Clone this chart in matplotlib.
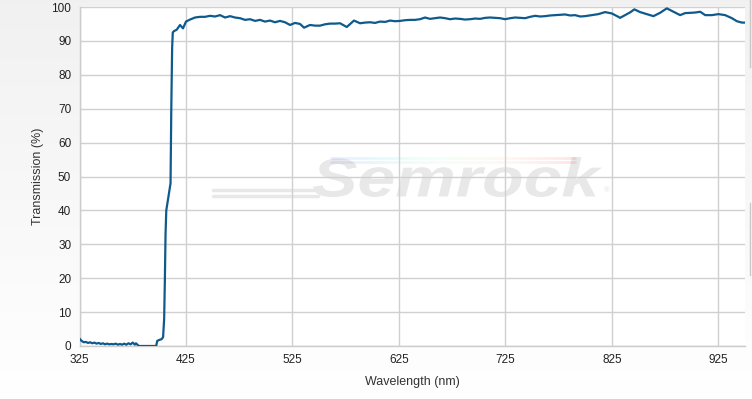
import numpy as np
import matplotlib
matplotlib.use("Agg")
import matplotlib.pyplot as plt
from matplotlib.collections import LineCollection
from matplotlib.textpath import TextPath
from matplotlib.font_manager import FontProperties
from matplotlib.patches import PathPatch, Rectangle
from matplotlib.transforms import Affine2D

plt.rcParams["font.family"] = ["Liberation Sans", "DejaVu Sans"]

wavelength = [
    325.5, 327, 329, 331, 333, 335, 337, 339, 341, 343, 345, 347, 349, 351,
    353, 355, 357, 359, 361, 363, 365, 367, 369, 371, 373, 375, 377, 378,
    380, 381, 397, 398, 400, 402, 403.5, 404.5, 405.2, 405.8, 406.5, 407.5,
    409, 410.5, 411.2, 412, 412.6, 413.8, 416.3, 419.4, 422.2, 425, 428.8,
    433.5, 438.2, 442.9, 447.6, 452.3, 457, 461.7, 466.4, 471, 475.8, 480.5,
    485.2, 489.9, 494.5, 499.2, 503.9, 508.6, 513.3, 518, 522.7, 527.4,
    532.1, 535.9, 541.5, 546.2, 550.9, 555.6, 560.3, 565, 569.7, 576, 582.8,
    588.5, 593, 597.9, 602.5, 607.3, 612, 616.7, 621.5, 626.1, 630.8, 635.4,
    640, 644.8, 649.5, 654.2, 658.9, 663.6, 668.3, 673, 677.7, 682.4, 687,
    691.8, 696.5, 701.2, 706, 710.6, 715.3, 720, 724.7, 729.4, 734.1, 738.8,
    743.5, 748.2, 752.9, 757.6, 762.3, 767, 771.7, 776.4, 781.1, 785.8,
    790.5, 795.2, 799.8, 806.1, 812.3, 818.6, 824.9, 831.1, 832.7, 837.4,
    842, 846.1, 851.5, 857.8, 864, 870.3, 876.6, 882.8, 889.1, 893.8, 900.1,
    904, 907.9, 912.6, 918.9, 925.1, 931.4, 937.7, 942.4, 947.1, 949.6,
]
transmission = [
    2.0, 1.5, 1.1, 1.2, 0.9, 1.1, 0.8, 1.0, 0.7, 0.9, 0.6, 0.8, 0.5, 0.7,
    0.5, 0.6, 0.5, 0.7, 0.4, 0.6, 0.4, 0.7, 0.4, 0.8, 0.5, 1.0, 0.4, 0.8,
    0.2, 0.0, 0.0, 1.5, 1.8, 2.0, 2.6, 8.0, 20.0, 33.0, 40.0, 42.0,
    45.0, 48.0, 70.0, 88.0, 92.5, 92.9, 93.3, 94.7, 93.7, 95.7, 96.3,
    96.9, 97.1, 97.1, 97.4, 97.2, 97.6, 96.9, 97.3, 96.9, 96.7, 96.2,
    96.4, 95.9, 96.2, 95.7, 96.0, 95.5, 95.9, 95.5, 94.7, 95.3,
    95.0, 93.9, 94.7, 94.5, 94.5, 94.9, 95.1, 95.1, 95.2, 94.1, 96.0,
    95.2, 95.4, 95.5, 95.3, 95.7, 95.6, 96.0, 95.8, 95.9, 96.1, 96.2,
    96.2, 96.4, 96.9, 96.5, 96.7, 96.9, 96.7, 96.4, 96.6, 96.5, 96.3,
    96.4, 96.6, 96.5, 96.8, 96.9, 96.8, 96.7, 96.4, 96.7, 96.9, 96.8,
    96.7, 97.1, 97.4, 97.2, 97.3, 97.5, 97.6, 97.7, 97.8, 97.5,
    97.6, 97.2, 97.3, 97.6, 97.9, 98.5, 98.1, 97.1, 96.8, 97.6,
    98.4, 99.3, 98.5, 97.9, 97.3, 98.3, 99.6, 98.6, 97.6, 98.2, 98.3,
    98.4, 98.6, 97.6, 97.6, 97.9, 97.6, 96.7, 95.8, 95.4, 95.4,
]
x_ticks = [325, 425, 525, 625, 725, 825, 925]
y_ticks = list(range(0, 101, 10))

W, H = 752, 399
L, R, T, B = 79.5, 745, 7, 346
fig = plt.figure(figsize=(W / 100, H / 100), dpi=100)

# background layer in figure pixel coords: gradient, plot area, watermark
bg = fig.add_axes([0, 0, 1, 1], zorder=-10)
grad = np.linspace(0.945, 1.0, 256).reshape(-1, 1)
bg.imshow(np.dstack([grad, grad, grad]), aspect="auto",
          extent=[0, W, H, 0])
bg.add_patch(Rectangle((L, T), R - L, B - T, fc="white", ec="none"))
bg.plot([750, 750], [0, 67], color="#c8c8c8", lw=1)
bg.plot([750, 750], [203, 275], color="#c8c8c8", lw=1)

tp = TextPath((0, 0), "Semrock",
              prop=FontProperties(family="Liberation Sans", weight="bold",
                                  style="italic"), size=10)
ext = tp.get_extents()
sx = (602 - 313) / ext.width
sy = (197 - 157) / ext.height
tr = (Affine2D().translate(-ext.x0, -ext.y0).scale(sx, -sy)
      .translate(313, 197))
bg.add_patch(PathPatch(tr.transform_path(tp), fc="#e8e8e8", ec="none"))
bg.text(607, 191, "®", fontsize=6, color="#e4e4e4", ha="center",
        va="center")
for yy in (190, 196):
    bg.plot([213, 318], [yy, yy], color="#e8e8e8", lw=2.5,
            solid_capstyle="round")
xs = np.linspace(330, 576, 60)
cmap = plt.get_cmap("rainbow")
for yy in (158, 162):
    pts = np.array([xs, np.full_like(xs, yy)]).T.reshape(-1, 1, 2)
    segs = np.concatenate([pts[:-1], pts[1:]], axis=1)
    lc = LineCollection(segs, colors=[cmap(v) for v in np.linspace(0.1, 1, 59)],
                        linewidths=2, alpha=0.1)
    bg.add_collection(lc)
bg.set_xlim(0, W)
bg.set_ylim(H, 0)
bg.set_axis_off()

ax = fig.add_axes([L / W, 1 - B / H, (R - L) / W, (B - T) / H])
ax.patch.set_alpha(0)

ax.plot(wavelength, transmission, color="#0f5a8c", lw=1.6, zorder=3)

ax.set_xlim(325, 950)
ax.set_ylim(0, 100)
ax.set_xticks(x_ticks)
ax.set_yticks(y_ticks)
ax.grid(True, color="#d0d0d0", lw=1)
ax.set_axisbelow(True)
ax.tick_params(length=0, labelsize=8.5, colors="#222222", pad=6)
for s in ("top", "right"):
    ax.spines[s].set_visible(False)
for s in ("left", "bottom"):
    ax.spines[s].set_color("#cccccc")
    ax.spines[s].set_linewidth(1)

ax.set_xlabel("Wavelength (nm)", fontsize=9, color="#333333", labelpad=7)
ax.set_ylabel("Transmission (%)", fontsize=9, color="#333333", labelpad=5)

fig.savefig("out.png", dpi=100)
